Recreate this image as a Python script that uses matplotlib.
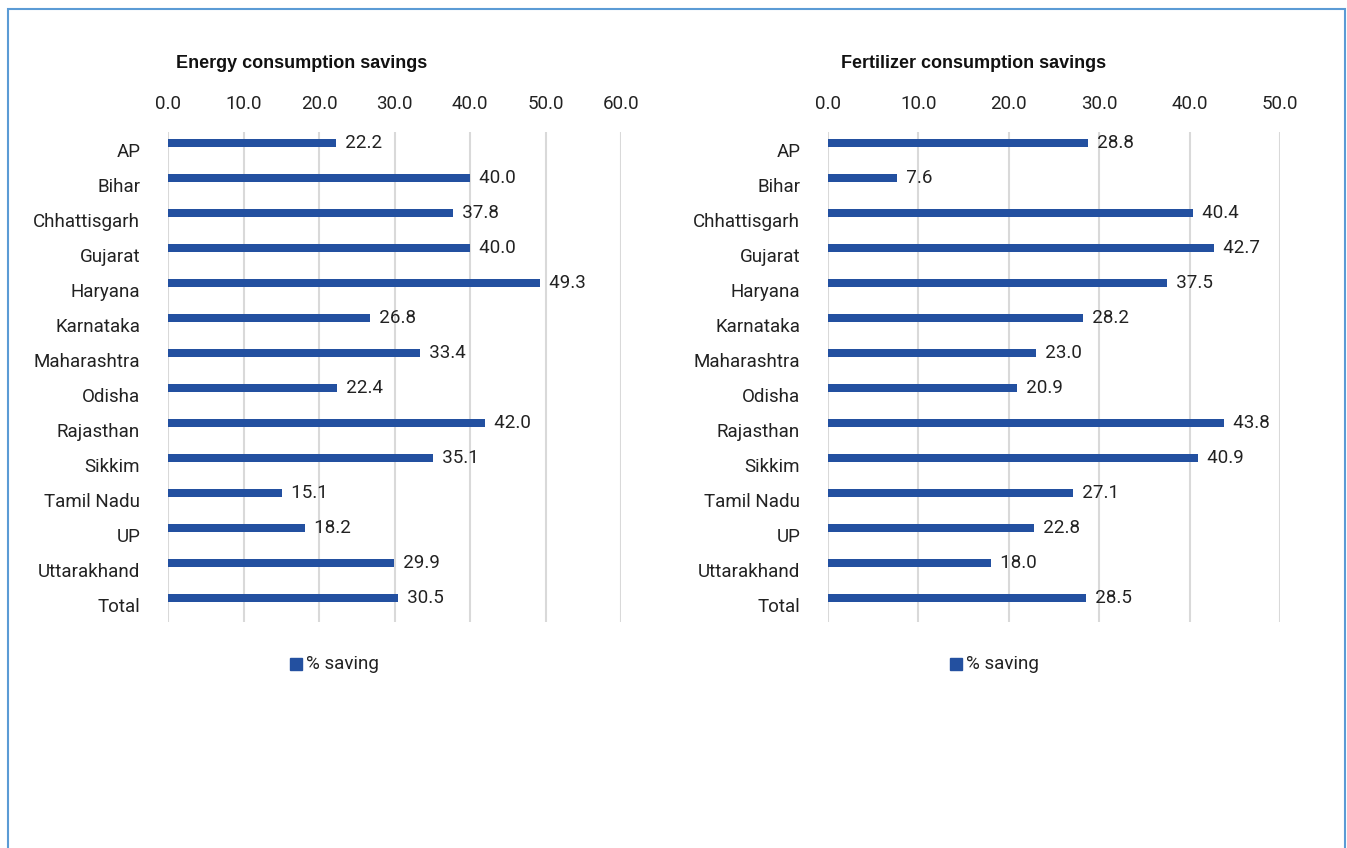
import matplotlib
matplotlib.use("Agg")
import matplotlib.pyplot as plt
from matplotlib.patches import Rectangle
from matplotlib.font_manager import fontManager

states = ["AP", "Bihar", "Chhattisgarh", "Gujarat", "Haryana", "Karnataka",
          "Maharashtra", "Odisha", "Rajasthan", "Sikkim", "Tamil Nadu", "UP",
          "Uttarakhand", "Total"]
energy_saving = [22.2, 40.0, 37.8, 40.0, 49.3, 26.8, 33.4, 22.4, 42.0, 35.1,
                 15.1, 18.2, 29.9, 30.5]
fert_saving = [28.8, 7.6, 40.4, 42.7, 37.5, 28.2, 23.0, 20.9, 43.8, 40.9,
               27.1, 22.8, 18.0, 28.5]
energy_ticks = [0, 10, 20, 30, 40, 50, 60]
fert_ticks = [0, 10, 20, 30, 40, 50]
series_name = "% saving"
titles = ["Energy consumption savings", "Fertilizer consumption savings"]

names = {f.name for f in fontManager.ttflist}
body = "Roboto" if "Roboto" in names else "Liberation Sans"
plt.rcParams["font.family"] = [body, "DejaVu Sans"]

W, H = 1347, 848
fig = plt.figure(figsize=(W / 100, H / 100), dpi=100)
bar_color = "#2350A0"
fs = 13.5
tc = "#222222"

# outer border
fig.patches.append(Rectangle((8 / W, -0.01), (1345 - 8) / W, 1 - 9 / H + 0.01,
                             transform=fig.transFigure, fill=False,
                             edgecolor="#5B9BD5", linewidth=1.5))

panels = [
    (168, 621, energy_saving, energy_ticks, titles[0], 302, 296),
    (828, 1280, fert_saving, fert_ticks, titles[1], 974, 956),
]
top_px, bot_px = 132, 622
for x0, x1, vals, ticks, title, tx, lx in panels:
    ax = fig.add_axes([x0 / W, 1 - bot_px / H, (x1 - x0) / W, (bot_px - top_px) / H])
    pos = list(range(len(states)))
    ax.barh([p - 0.18 for p in pos], vals, height=0.24, color=bar_color, zorder=3)
    for p, v in zip(pos, vals):
        ax.text(v, p - 0.2, f"  {v:.1f}", va="center", ha="left", fontsize=fs,
                color=tc)
    ax.set_xlim(ticks[0], ticks[-1])
    ax.set_ylim(len(states) - 0.5, -0.5)
    ax.set_yticks(pos)
    ax.set_yticklabels(states, fontsize=fs, color=tc)
    ax.set_xticks(ticks)
    ax.set_xticklabels([f"{t:.1f}" for t in ticks], fontsize=fs, color=tc)
    ax.xaxis.tick_top()
    ax.tick_params(axis="x", length=0, pad=14)
    ax.tick_params(axis="y", length=0, pad=20)
    ax.grid(axis="x", color="#D9D9D9", linewidth=1.5, zorder=0)
    for s in ax.spines.values():
        s.set_visible(False)
    fig.text(tx / W, 1 - 63 / H, title, ha="center", va="center",
             fontsize=13, fontweight="bold", color="#111111",
             family=["Liberation Sans", "DejaVu Sans"])
    # legend
    fig.patches.append(Rectangle(((lx - 6) / W, 1 - 670 / H), 12 / W, 12 / H,
                                 transform=fig.transFigure, color=bar_color))
    fig.text((lx + 10) / W, 1 - 664 / H, series_name, ha="left", va="center",
             fontsize=fs, color=tc)

fig.savefig("out.png", dpi=100)
